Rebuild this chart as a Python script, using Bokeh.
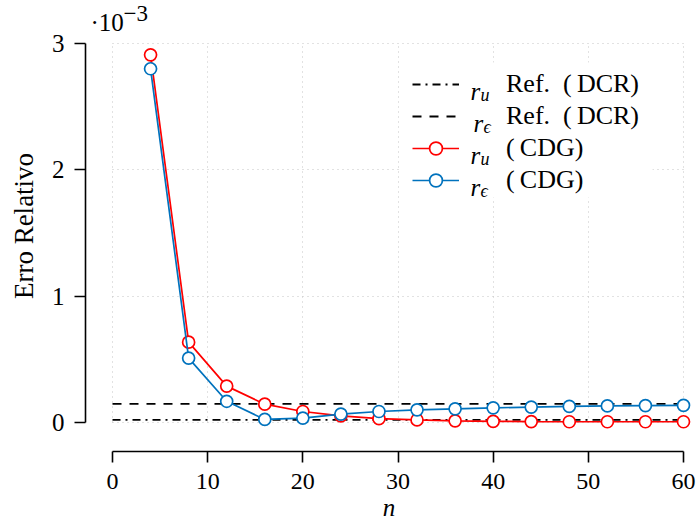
from bokeh.plotting import figure
from bokeh.models import Range1d, Legend, LegendItem, Label, FixedTicker, BoxAnnotation
from bokeh.embed import file_html
from bokeh.resources import INLINE

# ---------------- data (relative error, units of 1e-3) ----------------
n_vals = [4, 8, 12, 16, 20, 24, 28, 32, 36, 40, 44, 48, 52, 56, 60]
ru_cdg = [2.91, 0.636, 0.288, 0.145, 0.087, 0.052, 0.030, 0.020, 0.013,
          0.009, 0.007, 0.006, 0.006, 0.006, 0.006]
reps_cdg = [2.80, 0.510, 0.168, 0.024, 0.035, 0.067, 0.087, 0.100, 0.108,
            0.116, 0.122, 0.127, 0.131, 0.134, 0.136]
ref_n = [0, 60]
ru_ref = [0.021, 0.021]
reps_ref = [0.148, 0.148]
x_ticks = [0, 10, 20, 30, 40, 50, 60]
y_ticks = [0, 1, 2, 3]
legend_texts = ["Ref.\u2002(\u2009DCR)", "Ref.\u2002(\u2009DCR)",
                "(\u2009CDG)", "(\u2009CDG)"]

# ---------------- layout (canvas pixels) ----------------
W, H = 697, 524
FL, FR, FT, FB = 85, 692, 0, 451           # frame edges
PX_X0, PX_X60 = 112, 683                   # where x=0 and x=60 sit
PX_Y0, PX_Y3 = 422, 43                     # where y=0 and y=3 sit
FONT = "Liberation Serif"
RED = "#FF0000"
BLUE = "#0072BD"

sx = 60.0 / (PX_X60 - PX_X0)
sy = 3.0 / (PX_Y0 - PX_Y3)
x_range = Range1d(0 - (PX_X0 - FL) * sx, 60 + (FR - PX_X60) * sx)
y_range = Range1d(0 - (FB - PX_Y0) * sy, 3 + (PX_Y3 - FT) * sy)


def to_dx(cx):
    return x_range.start + (cx - FL) * sx


def to_dy(cy):
    return y_range.end - (cy - FT) * sy


p = figure(width=W, height=H, x_range=x_range, y_range=y_range,
           output_backend="svg", toolbar_location=None,
           min_border_left=FL, min_border_right=W - FR,
           min_border_top=FT, min_border_bottom=H - FB)
p.outline_line_color = None
p.background_fill_color = "white"
p.border_fill_color = "white"

# axes
for ax, tk, bnd in ((p.xaxis, x_ticks, (0, 60)), (p.yaxis, y_ticks, (0, 3))):
    ax.ticker = FixedTicker(ticks=tk)
    ax.bounds = bnd
    ax.minor_tick_line_color = None
    ax.major_tick_in = 0
    ax.major_tick_out = 11
    ax.axis_line_width = 1.6
    ax.major_tick_line_width = 1.6
    ax.axis_line_color = "black"
    ax.major_tick_line_color = "black"
    ax.major_label_text_font = FONT
    ax.major_label_text_color = "black"
    ax.axis_label_text_font = FONT
    ax.axis_label_text_color = "black"

p.xaxis.major_label_text_font_size = "24px"
p.xaxis.axis_label_text_font_size = "25px"
p.xaxis.major_label_standoff = 11
p.xaxis.axis_label = "n"
p.xaxis.axis_label_text_font_style = "italic"
p.xaxis.axis_label_standoff = 2
p.yaxis.major_label_text_font_size = "25px"
p.yaxis.axis_label_text_font_size = "27px"
p.yaxis.major_label_standoff = 10
p.yaxis.axis_label = "Erro Relativo"
p.yaxis.axis_label_text_font_style = "normal"
p.yaxis.axis_label_standoff = 10

# grid
p.xgrid.ticker = FixedTicker(ticks=x_ticks)
p.ygrid.ticker = FixedTicker(ticks=y_ticks)
for g, b, cb in ((p.xgrid, (0, 60), (0, 3)), (p.ygrid, (0, 3), (0, 60))):
    g.bounds = b
    g.cross_bounds = cb
    g.grid_line_color = "#c4c4c4"
    g.grid_line_dash = "1 4"
    g.grid_line_width = 1

# white box behind the legend (hides the grid there)
p.add_layout(BoxAnnotation(left=to_dx(400), right=to_dx(652),
                           top=to_dy(62), bottom=to_dy(197),
                           fill_color="white", fill_alpha=1.0,
                           line_color=None, level="underlay"))

# reference lines
r_ref_u = p.line(ref_n, ru_ref, line_color="black", line_width=1.8,
                 line_dash="8 5 2 5")
r_ref_e = p.line(ref_n, reps_ref, line_color="black", line_width=1.8,
                 line_dash="9 8")

# CDG series
l_u = p.line(n_vals, ru_cdg, line_color=RED, line_width=1.7)
m_u = p.scatter(n_vals, ru_cdg, marker="circle", size=12, line_color=RED,
                line_width=1.7, fill_color="white")
l_e = p.line(n_vals, reps_cdg, line_color=BLUE, line_width=1.7)
m_e = p.scatter(n_vals, reps_cdg, marker="circle", size=12, line_color=BLUE,
                line_width=1.7, fill_color="white")

# legend (glyph samples + plain text part), transparent background
items = [LegendItem(label=legend_texts[0], renderers=[r_ref_u]),
         LegendItem(label=legend_texts[1], renderers=[r_ref_e]),
         LegendItem(label=legend_texts[2], renderers=[l_u, m_u]),
         LegendItem(label=legend_texts[3], renderers=[l_e, m_e])]
LEG_LEFT, LEG_TOP, ROW_H, PAD = 412, 48, 32, 10
leg_h = 4 * ROW_H + 2 * PAD
legend = Legend(items=items, location=(LEG_LEFT - FL, FB - (LEG_TOP + leg_h)),
                orientation="vertical", glyph_width=47, glyph_height=ROW_H,
                spacing=0, padding=PAD, margin=0, label_standoff=47,
                label_text_font=FONT, label_text_font_size="26px",
                label_text_color="black",
                background_fill_alpha=0.0, border_line_color=None)
p.add_layout(legend, "center")


def add_text(text, cx, cy, size, style="normal"):
    """Place text by canvas pixel position (cx, cy from top-left)."""
    lab = Label(x=to_dx(cx), y=to_dy(cy), x_units="data", y_units="data",
                text=text, text_font=FONT, text_font_size=size,
                text_font_style=style, text_color="black",
                text_baseline="alphabetic", text_align="left")
    lab.level = "overlay"
    p.add_layout(lab)


# math symbols in legend rows (row centres in canvas px)
row_centers = [84, 116, 148, 180]
subs = ["u", "ϵ", "u", "ϵ"]
r_x = [470, 473, 470, 470]
for i in range(4):
    base = row_centers[i] + 7
    add_text("r", r_x[i], base, "25px", "italic")
    add_text(subs[i], r_x[i] + 10, base + 3, "18px", "italic")

# exponent label
add_text("·10", 90, 22, "25px")
add_text("−3", 123, 13, "23px")

open("out.html", "w").write(file_html(p, INLINE))
